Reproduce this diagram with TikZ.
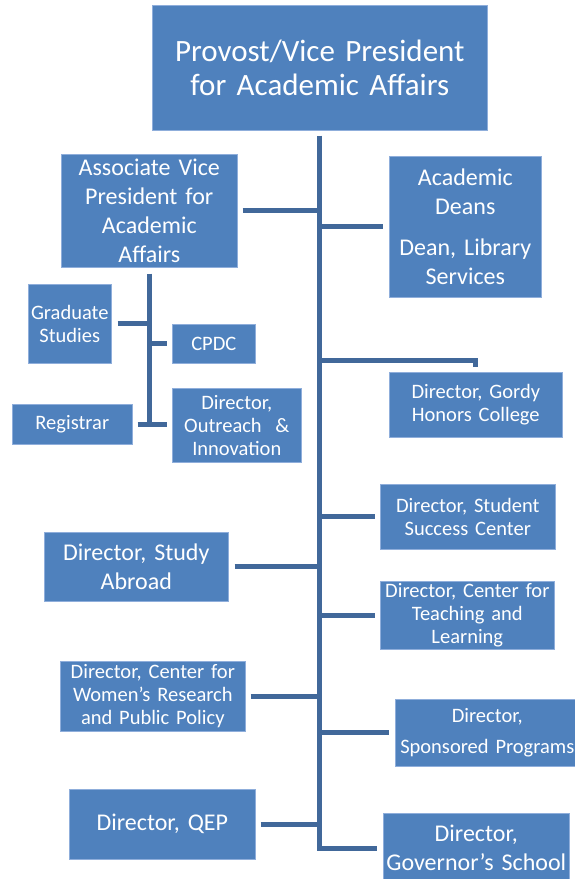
\documentclass[tikz,border=0pt]{standalone}
\usepackage{fontspec}
\setmainfont{Carlito}[WordSpace=0.6]
\usetikzlibrary{positioning,calc}
\definecolor{boxblue}{HTML}{4F81BD}
\definecolor{linkblue}{HTML}{41689A}
\definecolor{edgeblue}{HTML}{8FAEDB}
\tikzset{
  orgbox/.style={
    fill=boxblue,
    draw=edgeblue,
    line width=0.6pt,
    text=white,
    align=center,
    inner sep=0pt,
    anchor=north west
  },
  topfont/.style={font=\fontsize{31}{34}\selectfont},
  bigfont/.style={font=\fontsize{24}{29}\selectfont},
  smallfont/.style={font=\fontsize{20.5}{23}\selectfont},
  orgline/.style={draw=linkblue,line width=5pt}
}

\begin{document}
\begin{tikzpicture}[x=1pt,y=-1pt]
\useasboundingbox (0,0) rectangle (575,879);
% top of the chart
\node[orgbox,topfont,minimum width=335pt,minimum height=125pt,text width=335pt] (provost) at (152,5) {Provost/Vice President\\for Academic Affairs};
% left column
\node[orgbox,bigfont,minimum width=176pt,minimum height=113pt,text width=176pt] (avp) at (61,154) {Associate Vice\\President for\\Academic\\Affairs};
\node[orgbox,smallfont,minimum width=83pt,minimum height=79pt,text width=83pt] (grad) at (28,284) {Graduate\\Studies};
\node[orgbox,smallfont,minimum width=83pt,minimum height=39pt,text width=83pt] (cpdc) at (172,324) {CPDC};
\node[orgbox,smallfont,minimum width=120pt,minimum height=40pt,text width=120pt] (registrar) at (12,404) {Registrar};
\node[orgbox,smallfont,minimum width=129pt,minimum height=74pt,text width=129pt] (outreach) at (172,388) {Director,\\Outreach~~\&\\Innovation};
\node[orgbox,bigfont,minimum width=184pt,minimum height=69pt,text width=184pt] (abroad) at (44,532) {Director, Study\\Abroad};
\node[orgbox,smallfont,minimum width=185pt,minimum height=70pt,text width=185pt] (women) at (60,661) {Director, Center for\\Women’s Research\\and Public Policy};
\node[orgbox,bigfont,minimum width=186pt,minimum height=70pt,text width=186pt] (qep) at (69,789) {Director, QEP};
% right column
\node[orgbox,bigfont,minimum width=152pt,minimum height=141pt,text width=152pt] (deans) at (389,156) {Academic\\Deans\\[12pt]Dean, Library\\Services};
\node[orgbox,smallfont,minimum width=173pt,minimum height=65pt,text width=173pt] (gordy) at (389,372) {Director, Gordy\\Honors College};
\node[orgbox,smallfont,minimum width=175pt,minimum height=65pt,text width=175pt] (success) at (380,484) {Director, Student\\Success Center};
\node[orgbox,smallfont,minimum width=174pt,minimum height=68pt,text width=174pt] (teaching) at (380,581) {Director, Center for\\Teaching and\\Learning};
\node[orgbox,smallfont,minimum width=179pt,minimum height=67pt,text width=184pt] (sponsored) at (395,699) {Director,\\[8pt]Sponsored Programs};
\node[orgbox,bigfont,minimum width=186pt,minimum height=70pt,text width=186pt] (governor) at (383,813) {Director,\\Governor’s School};
% main trunk
\coordinate (trunktop) at ([yshift=-5pt]provost.south);
\coordinate (trunkbot) at (trunktop |- governor.west);
\draw[orgline] (trunktop) -- (trunkbot) -- ([xshift=-6pt]governor.west);
% branches to the left
\draw[orgline] ([xshift=5pt]avp.east) -- (avp.east -| trunktop);
\draw[orgline] ([xshift=6pt]abroad.east) -- (abroad.east -| trunktop);
\draw[orgline] ([xshift=5pt]women.east) -- (women.east -| trunktop);
\draw[orgline] ([xshift=5pt]qep.east) -- (qep.east -| trunktop);
% branches to the right
\draw[orgline] (deans.west -| trunktop) -- ([xshift=-6pt]deans.west);
\coordinate (gordyjoin) at ($(gordy.north)+(0,-12)$);
\draw[orgline] (gordyjoin -| trunktop) -- (gordyjoin) -- ([yshift=5pt]gordy.north);
\draw[orgline] (success.west -| trunktop) -- ([xshift=-5pt]success.west);
\draw[orgline] (teaching.west -| trunktop) -- ([xshift=-5pt]teaching.west);
\draw[orgline] (sponsored.west -| trunktop) -- ([xshift=-6pt]sponsored.west);
% associate vice president's units
\coordinate (subtop) at ([yshift=-6pt]avp.south);
\draw[orgline] (subtop) -- (subtop |- registrar.east);
\draw[orgline] ([xshift=6pt]grad.east) -- (grad.east -| subtop);
\draw[orgline] (cpdc.west -| subtop) -- ([xshift=-5pt]cpdc.west);
\draw[orgline] ([xshift=5pt]registrar.east) -- ([xshift=-5pt]registrar.east -| outreach.west);
\end{tikzpicture}
\end{document}
